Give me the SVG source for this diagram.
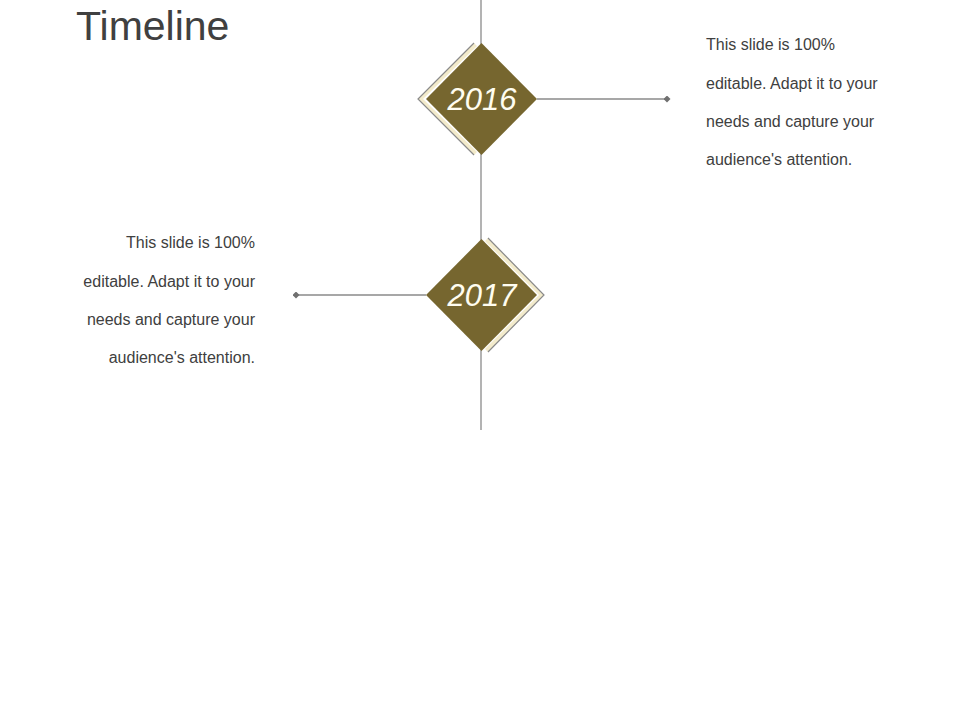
<svg xmlns="http://www.w3.org/2000/svg" width="960" height="720" viewBox="0 0 960 720">
<style>
.title{font-family:"Liberation Sans",Arial,sans-serif;font-size:41px;fill:#404040}
.body{font-family:"Liberation Sans",Arial,sans-serif;font-size:16px;fill:#404040}
.year{font-family:"Liberation Sans",Arial,sans-serif;font-size:31px;font-style:italic;fill:#FFFDF0;text-anchor:middle}
.dia{fill:#76662F}
.band{fill:#F3EBCB}
.edge{fill:none;stroke:#8A8A8A;stroke-width:1.2}
.ln{stroke:#8A8A8A;stroke-width:1.3;fill:none}
</style>
<defs>
<marker id="dm" viewBox="0 0 10 10" refX="5" refY="5" markerWidth="7" markerHeight="7" markerUnits="userSpaceOnUse">
<path d="M5 0 L10 5 L5 10 L0 5 Z" fill="#707070"/>
</marker>
</defs>
<rect width="960" height="720" fill="#FFFFFF"/>
<text class="title" x="76" y="40">Timeline</text>
<g id="connectors">
<line class="ln" x1="481" y1="0" x2="481" y2="430"/>
<line class="ln" x1="537" y1="99" x2="667" y2="99" marker-end="url(#dm)"/>
<line class="ln" x1="426" y1="295" x2="296" y2="295" marker-end="url(#dm)"/>
</g>
<g id="node2016">
<polygon class="band" points="474,43 418,99 474,155 477,152 423,99 477,46"/>
<polyline class="edge" points="474,43 418,99 474,155"/>
<polygon class="dia" points="481.5,43 537,99 481.5,155 426,99"/>
<text class="year" x="482" y="110">2016</text>
</g>
<g id="node2017">
<polygon class="band" points="488,238 544,295 488,352 485,349 539,295 485,241"/>
<polyline class="edge" points="488,238 544,295 488,352"/>
<polygon class="dia" points="481.5,239 537,295 481.5,351 426,295"/>
<text class="year" x="482" y="306">2017</text>
</g>
<g id="text2016">
<text class="body" x="706" y="50">This slide is 100%</text>
<text class="body" x="706" y="88.5">editable. Adapt it to your</text>
<text class="body" x="706" y="127">needs and capture your</text>
<text class="body" x="706" y="165">audience's attention.</text>
</g>
<g id="text2017" text-anchor="end">
<text class="body" x="255" y="248">This slide is 100%</text>
<text class="body" x="255" y="286.5">editable. Adapt it to your</text>
<text class="body" x="255" y="325">needs and capture your</text>
<text class="body" x="255" y="363">audience's attention.</text>
</g>
</svg>
